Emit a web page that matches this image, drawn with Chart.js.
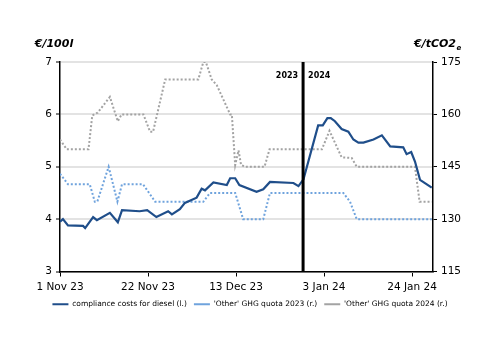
<!DOCTYPE html>
<html>
<head>
<meta charset="utf-8">
<script src="https://cdn.jsdelivr.net/npm/chart.js@4"></script>
<style>
  html, body { margin: 0; padding: 0; background: #fff; }
  #wrap { width: 500px; height: 353px; position: relative; }
</style>
</head>
<body>
<div id="wrap"><canvas id="chart"></canvas></div>
<script>
// days counted from 1 Nov 2023
const tickDays = [0, 21, 42, 63, 84];
const tickLabels = ['1 Nov 23', '22 Nov 23', '13 Dec 23', '3 Jan 24', '24 Jan 24'];
const yearBreakDay = 58;

const dieselDays = [0, 0.7, 1.9, 5.5, 6, 7.9, 8.8, 11.9, 13.8, 14.8, 19, 20.8, 23, 25.8, 26.7, 28.6, 29.8, 32.6, 33.8, 34.6, 36.6, 39.8, 40.6, 41.8, 42.8, 46.9, 48.5, 50.1, 55.7, 56.9, 58.1, 61.6, 62.7, 63.8, 64.6, 65.6, 67.2, 68.8, 70, 71.2, 72.4, 74.8, 76.8, 78.8, 81.9, 82.7, 83.8, 84.7, 85.9, 88.7];
const dieselValues = [3.95, 4.0, 3.88, 3.87, 3.83, 4.04, 3.98, 4.12, 3.94, 4.17, 4.15, 4.17, 4.04, 4.15, 4.09, 4.19, 4.31, 4.41, 4.58, 4.55, 4.70, 4.65, 4.78, 4.78, 4.65, 4.52, 4.57, 4.71, 4.69, 4.63, 4.76, 5.79, 5.79, 5.93, 5.93, 5.87, 5.72, 5.67, 5.52, 5.46, 5.46, 5.52, 5.60, 5.39, 5.37, 5.24, 5.28, 5.10, 4.75, 4.60];

const quota23Days = [0, 1.9, 7.1, 8.3, 8.9, 11.6, 13.7, 14.8, 19.8, 22.7, 34.2, 35.8, 41.8, 43.7, 48.5, 50.1, 67.6, 69.2, 70.8, 88.7];
const quota23Values = [143, 140, 140, 135, 135, 145, 135, 140, 140, 135, 135, 137.5, 137.5, 130, 130, 137.5, 137.5, 135, 130, 130];

const quota24Days = [0, 1.6, 6.8, 7.7, 9, 11.9, 13.8, 14.7, 19.9, 21.5, 22.2, 25.1, 33, 34.2, 34.8, 36.2, 37.4, 40.6, 41, 41.8, 42.6, 43.2, 44.2, 48.8, 50, 62.5, 64.3, 67.2, 69.6, 70.8, 84.7, 85.8, 88.7];
const quota24Values = [152.8, 150, 150, 159.7, 160.5, 165, 158, 160, 160, 155, 155, 170, 170, 175, 175, 170, 168.4, 160, 160, 145.5, 149.7, 145.5, 145, 145, 150, 150, 155.3, 147.7, 147.5, 145, 145, 135, 135];

const toPoints = (xs, ys) => xs.map((x, i) => ({ x: x, y: ys[i] }));

const FONT = 'DejaVu Sans';

const overlay = {
  id: 'overlay',
  afterDatasetsDraw(chart) {
    const { ctx, chartArea, scales } = chart;
    const x = scales.x.getPixelForValue(yearBreakDay);
    ctx.save();
    ctx.strokeStyle = '#000';
    ctx.lineWidth = 3;
    ctx.beginPath();
    ctx.moveTo(x, chartArea.top);
    ctx.lineTo(x, chartArea.bottom);
    ctx.stroke();
    ctx.fillStyle = '#000';
    ctx.font = 'bold 8px ' + FONT;
    ctx.textBaseline = 'middle';
    ctx.textAlign = 'right';
    ctx.fillText('2023', x - 5, chartArea.top + 14);
    ctx.textAlign = 'left';
    ctx.fillText('2024', x + 5, chartArea.top + 14);
    ctx.restore();
  },
  afterDraw(chart) {
    const { ctx, chartArea } = chart;
    ctx.save();
    ctx.fillStyle = '#000';
    ctx.font = 'italic bold 11px ' + FONT;
    ctx.textBaseline = 'middle';
    ctx.textAlign = 'center';
    ctx.fillText('\u20AC/100l', 54, chartArea.top - 18);
    const base = '\u20AC/tCO2';
    const w = ctx.measureText(base).width;
    const x0 = 414;
    ctx.textAlign = 'left';
    ctx.fillText(base, x0, chartArea.top - 18);
    ctx.font = 'italic bold 7px ' + FONT;
    ctx.fillText('e', x0 + w + 0.5, chartArea.top - 14);
    ctx.restore();
  }
};

new Chart(document.getElementById('chart'), {
  type: 'line',
  data: {
    datasets: [
      {
        label: 'compliance costs for diesel (l.)',
        data: toPoints(dieselDays, dieselValues),
        yAxisID: 'y',
        borderColor: '#1F4E8A',
        borderWidth: 2.2,
        pointRadius: 0,
        pointStyle: 'line',
        tension: 0
      },
      {
        label: "'Other' GHG quota 2023 (r.)",
        data: toPoints(quota23Days, quota23Values),
        yAxisID: 'y2',
        borderColor: '#6FA3DD',
        borderWidth: 2,
        borderDash: [2, 2],
        pointRadius: 0,
        pointStyle: 'line',
        tension: 0
      },
      {
        label: "'Other' GHG quota 2024 (r.)",
        data: toPoints(quota24Days, quota24Values),
        yAxisID: 'y2',
        borderColor: '#A3A3A3',
        borderWidth: 2,
        borderDash: [2, 2],
        pointRadius: 0,
        pointStyle: 'line',
        tension: 0
      }
    ]
  },
  options: {
    responsive: true,
    maintainAspectRatio: false,
    animation: false,
    layout: { padding: { top: 62, left: 0, right: 0, bottom: 35 } },
    plugins: {
      legend: {
        position: 'bottom',
        labels: {
          color: '#000',
          font: { family: FONT, size: 7.5 },
          usePointStyle: true,
          pointStyleWidth: 16,
          boxHeight: 6,
          padding: 7
        }
      },
      tooltip: { enabled: false }
    },
    scales: {
      x: {
        type: 'linear',
        min: 0,
        max: 89,
        afterBuildTicks: (scale) => { scale.ticks = tickDays.map(v => ({ value: v })); },
        afterFit: (scale) => { scale.height = 22; },
        ticks: {
          callback: (v) => tickLabels[tickDays.indexOf(v)],
          color: '#000',
          font: { family: FONT, size: 10.5 },
          maxRotation: 0,
          padding: 4
        },
        grid: { drawOnChartArea: false, color: '#000', tickLength: 5, lineWidth: 1 },
        border: { color: '#000', width: 1.5 }
      },
      y: {
        position: 'left',
        min: 3,
        max: 7,
        afterFit: (scale) => { scale.width = 60; },
        ticks: { stepSize: 1, color: '#000', font: { family: FONT, size: 10.5 }, padding: 4 },
        grid: { color: '#E3E3E3', lineWidth: 2, tickLength: 4, tickColor: '#000', tickWidth: 1 },
        border: { color: '#000', width: 1.5 }
      },
      y2: {
        position: 'right',
        min: 115,
        max: 175,
        afterFit: (scale) => { scale.width = 67; },
        ticks: { stepSize: 15, color: '#000', font: { family: FONT, size: 10.5 }, padding: 4 },
        grid: { drawOnChartArea: false, tickLength: 4, color: '#000', lineWidth: 1 },
        border: { color: '#000', width: 1.5 }
      }
    }
  },
  plugins: [overlay]
});
</script>
</body>
</html>
